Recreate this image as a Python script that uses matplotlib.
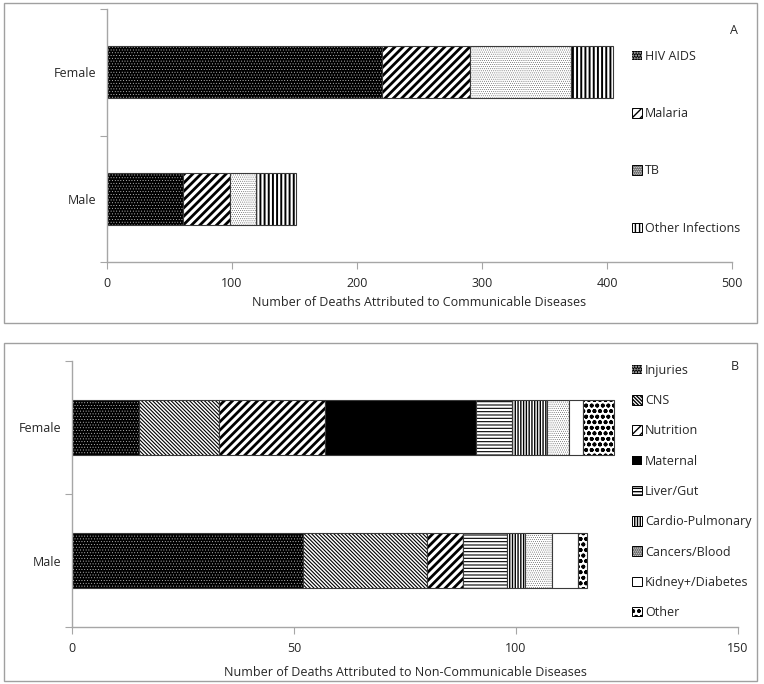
import matplotlib
matplotlib.use("Agg")
import matplotlib.pyplot as plt
from matplotlib.patches import Rectangle
import numpy as np

plt.rcParams['font.family'] = ['Open Sans', 'DejaVu Sans']

# ---------------- data ----------------
sexes = ["Male", "Female"]  # bottom -> top

comm_labels = ["HIV AIDS", "Malaria", "TB", "Other Infections"]
hiv_aids = [61, 220]
malaria = [37, 70]
tb = [21, 81]
other_inf = [32, 34]

ncd_labels = ["Injuries", "CNS", "Nutrition", "Maternal", "Liver/Gut",
              "Cardio-Pulmonary", "Cancers/Blood", "Kidney+/Diabetes", "Other"]
injuries = [52, 15]
cns = [28, 18]
nutrition = [8, 24]
maternal = [0, 34]
liver_gut = [10, 8]
cardio = [4, 8]
cancers = [6, 5]
kidney = [6, 3]
other_ncd = [2, 7]

comm_ticks = [0, 100, 200, 300, 400, 500]
ncd_ticks = [0, 50, 100, 150]

# styles: (facecolor, hatchcolor, hatch, hatch linewidth)
comm_styles = [
    ("black", "#d0d0d0", "......", 0.3),
    ("white", "black", "////", 2.0),
    ("white", "#444444", "........", 0.3),
    ("white", "black", "||||", 1.4),
]
ncd_styles = [
    ("black", "#d0d0d0", "......", 0.3),
    ("white", "black", "\\\\\\\\\\\\\\\\\\", 0.8),
    ("white", "black", "////", 2.0),
    ("black", "black", None, 0.8),
    ("white", "black", "-----", 0.8),
    ("white", "black", "||||||", 1.0),
    ("white", "#444444", "........", 0.3),
    ("white", "black", None, 0.8),
    ("white", "black", "ooo", 1.2),
]

TXT = "#262626"
AX = "#a6a6a6"
FS = 9

fig = plt.figure(figsize=(7.64, 6.84), dpi=100)

# panel frames
for (l, b, w, h) in [(4 / 764, 1 - 323 / 684, 753 / 764, 320 / 684),
                     (4 / 764, 1 - 681 / 684, 753 / 764, 338 / 684)]:
    fig.add_artist(Rectangle((l, b), w, h, transform=fig.transFigure,
                             fill=False, edgecolor="#a0a0a0", linewidth=1.0))


def draw_panel(ax, series, labels, styles, xmax, xticks, xlabel, letter,
               leg_top, leg_spacing, letter_xy, xlabelpad):
    y = np.arange(len(sexes))
    left = np.zeros(len(sexes))
    handles = []
    for vals, lab, (fc, hc, hatch, hlw) in zip(series, labels, styles):
        vals = np.array(vals, dtype=float)
        with plt.rc_context({'hatch.linewidth': hlw}):
            ax.barh(y, vals, left=left, height=0.41, color=fc,
                    edgecolor=hc, hatch=hatch, linewidth=0.0, label=lab)
        ax.barh(y, vals, left=left, height=0.41, fill=False,
                edgecolor="#3a3a3a", linewidth=0.8)
        with plt.rc_context({'hatch.linewidth': hlw}):
            if fc == "black":
                h = Rectangle((0, 0), 1, 1, facecolor=fc, edgecolor=hc,
                              hatch=hatch, linewidth=0.0)
            else:
                h = Rectangle((0, 0), 1, 1, facecolor=fc, edgecolor="black",
                              hatch=hatch, linewidth=0.7)
        handles.append(h)
        left = left + vals
    ax.set_xlim(0, xmax)
    ax.set_ylim(-0.5, 1.5)
    ax.set_xticks(xticks)
    ax.set_xticklabels([str(t) for t in xticks], fontsize=FS, color=TXT)
    ax.set_yticks([-0.5, 0.5, 1.5])
    ax.set_yticklabels([])
    ax.set_yticks(y, minor=True)
    ax.set_yticklabels(sexes, minor=True, fontsize=FS, color=TXT)
    ax.tick_params(axis='y', which='minor', length=0, pad=8)
    ax.tick_params(axis='y', which='major', length=5, color=AX, direction='out')
    ax.tick_params(axis='x', length=5, color=AX, direction='out', pad=6)
    for s in ['top', 'right']:
        ax.spines[s].set_visible(False)
    for s in ['left', 'bottom']:
        ax.spines[s].set_color(AX)
        ax.spines[s].set_linewidth(1.0)
    ax.set_xlabel(xlabel, fontsize=FS, color=TXT, labelpad=xlabelpad)
    fig.legend(handles, labels, loc='upper left',
               bbox_to_anchor=(632 / 764, 1 - leg_top / 684),
               bbox_transform=fig.transFigure, frameon=False,
               fontsize=FS, labelcolor=TXT, handlelength=0.8, handleheight=0.8,
               handletextpad=0.25, labelspacing=leg_spacing, borderpad=0,
               borderaxespad=0)
    fig.text(letter_xy[0] / 764, 1 - letter_xy[1] / 684, letter, fontsize=FS,
             color=TXT, ha='center', va='center')


axA = fig.add_axes([107 / 764, 1 - 262 / 684, (732 - 107) / 764, (262 - 9) / 684])
draw_panel(axA, [hiv_aids, malaria, tb, other_inf], comm_labels, comm_styles,
           500, comm_ticks, "Number of Deaths Attributed to Communicable Diseases",
           "A", 50, 3.54, (734, 30), 4)

axB = fig.add_axes([72 / 764, 1 - 627 / 684, (738 - 72) / 764, (627 - 361) / 684])
draw_panel(axB, [injuries, cns, nutrition, maternal, liver_gut, cardio, cancers,
                 kidney, other_ncd], ncd_labels, ncd_styles,
           150, ncd_ticks, "Number of Deaths Attributed to Non-Communicable Diseases",
           "B", 364, 1.38, (735, 367), 8)

fig.savefig("out.png", dpi=100)
